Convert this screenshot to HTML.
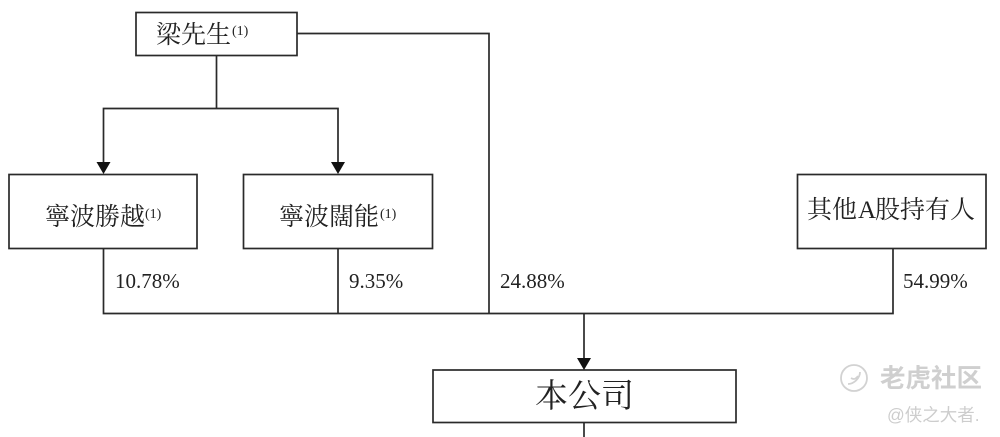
<!DOCTYPE html>
<html><head><meta charset="utf-8"><style>
html,body{margin:0;padding:0;background:#fff}
svg{display:block}
text{font-family:"Liberation Serif","Noto Serif CJK SC",serif;fill:#222}
</style></head><body>
<svg width="1000" height="437" viewBox="0 0 1000 437" xmlns="http://www.w3.org/2000/svg">
<g fill="#fff" stroke="#2a2a2a" stroke-width="1.7">
<rect x="136" y="12.5" width="161" height="43"/>
<rect x="9" y="174.5" width="188" height="74"/>
<rect x="243.5" y="174.5" width="189" height="74"/>
<rect x="797.5" y="174.5" width="188.5" height="74"/>
<rect x="433" y="370" width="303" height="52.5"/>
</g>
<g fill="none" stroke="#2a2a2a" stroke-width="1.7">
<path d="M297 33.5H489V313.5"/>
<path d="M216.5 55.5V108.5"/>
<path d="M103.5 162V108.5H338V162"/>
<path d="M103.5 248.5V313.5H893V248.5"/>
<path d="M338 248.5V313.5"/>
<path d="M584 313.5V358"/>
<path d="M584 422.5V437"/>
</g>
<g fill="#111">
<polygon points="96.5,162 110.5,162 103.5,174"/>
<polygon points="331,162 345,162 338,174"/>
<polygon points="577,358 591,358 584,370"/>
</g>
<text x="156" y="43" font-size="25">梁先生</text>
<text x="232" y="35" font-size="14">(1)</text>
<text x="45" y="225" font-size="25">寧波勝越</text>
<text x="145" y="218" font-size="14">(1)</text>
<text x="279" y="225" font-size="25">寧波闊能</text>
<text x="380" y="218" font-size="14">(1)</text>
<text x="807" y="218" font-size="25">其他</text><text x="858" y="218" font-size="25">A</text><text x="875" y="218" font-size="25">股持有人</text>
<text x="115" y="288" font-size="21">10.78%</text>
<text x="349" y="288" font-size="21">9.35%</text>
<text x="500" y="288" font-size="21">24.88%</text>
<text x="903" y="288" font-size="21">54.99%</text>
<text x="535" y="407" font-size="33">本公司</text>
<g fill="none" stroke="#d2d2d2" stroke-width="1.8">
<circle cx="854" cy="378" r="13"/>
<path d="M848 384c6 0 12-6 12-12"/>
<path d="M851 378c3 2 5 1 7-2"/>
</g>
<text x="880" y="387" font-size="25.5" font-weight="700" style="fill:#cfcfcf;font-family:'Liberation Sans','Noto Sans CJK SC',sans-serif">老虎社区</text>
<text x="887" y="421" font-size="17.5" style="fill:#cdcdcd;font-family:'Liberation Sans','Noto Sans CJK SC',sans-serif">@侠之大者.</text>
</svg>
</body></html>
